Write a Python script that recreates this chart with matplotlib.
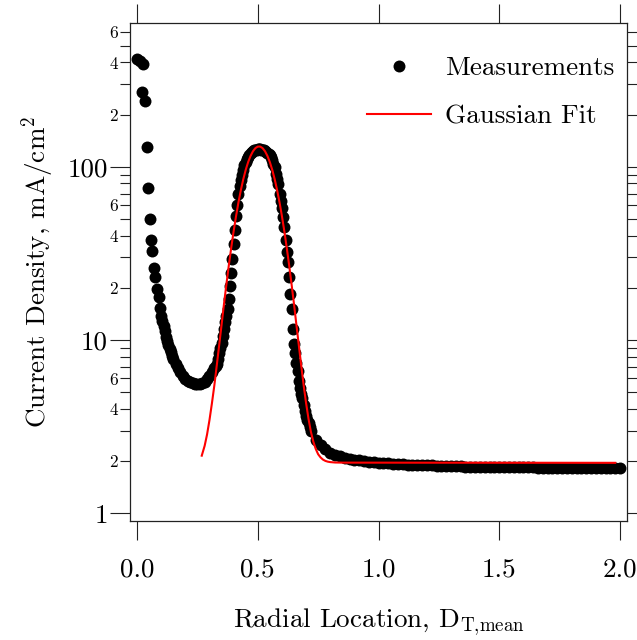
import matplotlib
matplotlib.use("Agg")
from matplotlib import pyplot as plt
from matplotlib.ticker import FixedLocator, FixedFormatter

plt.rcParams["font.family"] = "cmr10"
plt.rcParams["mathtext.fontset"] = "cm"
plt.rcParams["axes.formatter.use_mathtext"] = True

meas_x = [0.002, 0.014, 0.026, 0.021, 0.032, 0.041, 0.047, 0.053, 0.057, 0.063,
          0.069, 0.073, 0.081, 0.090, 0.094,
          0.100, 0.105, 0.110, 0.115, 0.120, 0.125, 0.130, 0.135, 0.140, 0.145,
          0.150, 0.160, 0.170, 0.180, 0.190, 0.200, 0.210, 0.220, 0.230, 0.240,
          0.250, 0.260, 0.270, 0.280, 0.290, 0.300, 0.310, 0.320, 0.325,
          0.330, 0.335, 0.340, 0.345, 0.350, 0.355, 0.360, 0.365, 0.370, 0.375,
          0.380, 0.385, 0.390, 0.395, 0.400, 0.405, 0.410, 0.415, 0.420, 0.425,
          0.430, 0.435, 0.440, 0.445, 0.450, 0.455, 0.460, 0.465, 0.470, 0.475,
          0.480, 0.485, 0.490, 0.495, 0.500, 0.505, 0.510, 0.515, 0.520, 0.525,
          0.530, 0.535, 0.540, 0.545, 0.550, 0.555, 0.560, 0.565, 0.570, 0.575,
          0.580, 0.585, 0.590, 0.595, 0.600, 0.605, 0.610, 0.615, 0.620, 0.625,
          0.630, 0.635, 0.640, 0.645, 0.650, 0.655, 0.660, 0.665, 0.670, 0.675,
          0.680, 0.685, 0.690, 0.695, 0.700, 0.705, 0.710, 0.715, 0.720,
          0.74, 0.76, 0.78, 0.80, 0.82, 0.84, 0.86, 0.88, 0.90, 0.92, 0.94,
          0.96, 0.98, 1.00, 1.02, 1.04, 1.06, 1.08, 1.10, 1.12, 1.14, 1.16,
          1.18, 1.20, 1.22, 1.24, 1.26, 1.28, 1.30, 1.32, 1.34, 1.36, 1.38,
          1.40, 1.42, 1.44, 1.46, 1.48, 1.50, 1.52, 1.54, 1.56, 1.58, 1.60,
          1.62, 1.64, 1.66, 1.68, 1.70, 1.72, 1.74, 1.76, 1.78, 1.80, 1.82,
          1.84, 1.86, 1.88, 1.90, 1.92, 1.94, 1.96, 1.98, 2.00]
meas_y = [418, 407, 392, 271, 239, 130, 75, 50, 38, 32.7,
          26, 23, 19.6, 17.8, 15.2,
          13.8, 12.8, 12.0, 11.2, 10.4, 9.9, 9.4, 8.9, 8.5, 8.1,
          7.8, 7.3, 6.9, 6.5, 6.2, 5.95, 5.8, 5.7, 5.62, 5.58,
          5.56, 5.57, 5.62, 5.75, 5.95, 6.2, 6.5, 6.9, 7.1,
          7.3, 7.8, 8.4, 9.0, 9.6, 10.5, 11.6, 12.7, 13.8, 15.0,
          17.2, 20.5, 24.5, 29.5, 36, 43, 52, 60, 70, 77,
          84, 90, 96, 102, 107, 111, 114, 117, 120, 121.5,
          123, 124, 125, 125.5, 126, 126, 126, 125.5, 125, 124,
          123, 122, 120.5, 119, 117, 113, 109, 104, 99, 91,
          85, 79, 70, 63, 58, 51, 45, 38, 32, 28,
          23, 18.5, 15, 11.6, 9.5, 8.4, 7.4, 6.6, 5.8, 5.3,
          4.9, 4.6, 4.2, 3.9, 3.65, 3.45, 3.3, 3.15, 3.0,
          2.65, 2.47, 2.34, 2.24, 2.18, 2.13, 2.09, 2.06, 2.04, 2.02, 2.00,
          1.98, 1.965, 1.95, 1.945, 1.94, 1.93, 1.925, 1.915, 1.91, 1.905, 1.90,
          1.895, 1.89, 1.89, 1.885, 1.88, 1.875, 1.87, 1.87, 1.865, 1.86, 1.86,
          1.86, 1.855, 1.855, 1.85, 1.85, 1.85, 1.845, 1.845, 1.845, 1.84, 1.84,
          1.84, 1.84, 1.835, 1.835, 1.835, 1.835, 1.83, 1.83, 1.83, 1.83, 1.83,
          1.825, 1.825, 1.825, 1.825, 1.82, 1.82, 1.82, 1.82, 1.82]

# gaussian fit curve
fit_x = [0.268, 0.28, 0.29, 0.30, 0.31, 0.32, 0.33, 0.34, 0.35, 0.36, 0.37,
         0.38, 0.39, 0.40, 0.41, 0.42, 0.43, 0.44, 0.45, 0.46, 0.47, 0.48,
         0.49, 0.50, 0.51, 0.52, 0.53, 0.54, 0.55, 0.56, 0.57, 0.58, 0.59,
         0.60, 0.61, 0.62, 0.63, 0.64, 0.65, 0.66, 0.67, 0.68, 0.69, 0.70,
         0.71, 0.72, 0.73, 0.74, 0.75, 0.76, 0.77, 0.78, 0.79, 0.80, 0.82,
         0.85, 1.98]
fit_y = [2.15, 2.45, 2.85, 3.45, 4.3, 5.45, 7.1, 9.3, 12.2, 16.1, 20.9,
         26.9, 34.0, 42.4, 51.8, 62.3, 73.3, 84.7, 95.8, 106.2, 115.3, 122.7,
         127.9, 130.6, 130.6, 127.9, 122.7, 115.3, 106.2, 95.8, 84.7, 73.3, 62.3,
         51.8, 42.4, 34.0, 26.9, 20.9, 16.1, 12.2, 9.3, 7.1, 5.47, 4.32,
         3.51, 2.95, 2.59, 2.35, 2.19, 2.10, 2.04, 2.005, 1.985, 1.974, 1.963,
         1.96, 1.955]

xticks = [0.0, 0.5, 1.0, 1.5, 2.0]
xtick_labels = ["0.0", "0.5", "1.0", "1.5", "2.0"]
yticks_major = [1, 10, 100]
ytick_major_labels = ["1", "10", "100"]
yticks_minor = [2, 3, 4, 5, 6, 7, 8, 9, 20, 30, 40, 50, 60, 70, 80, 90,
                200, 300, 400, 500, 600]
ytick_minor_labels = ["2", "", "4", "", "6", "", "", "", "2", "", "4", "", "6", "", "", "",
                      "2", "", "4", "", "6"]

fig = plt.figure(figsize=(6.37, 6.40), dpi=100)
ax = fig.add_axes([0.2041, 0.1864, 0.7807, 0.7777])

ax.plot(meas_x, meas_y, "o", color="black", ms=8.6, mew=0, label="Measurements")
ax.plot(fit_x, fit_y, "-", color="#ff0000", lw=1.5, label="Gaussian Fit")

ax.set_yscale("log")
ax.set_xlim(-0.029, 2.030)
ax.set_ylim(0.906, 675)

ax.xaxis.set_major_locator(FixedLocator(xticks))
ax.xaxis.set_major_formatter(FixedFormatter(xtick_labels))
ax.xaxis.set_minor_locator(FixedLocator([]))
ax.yaxis.set_major_locator(FixedLocator(yticks_major))
ax.yaxis.set_major_formatter(FixedFormatter(ytick_major_labels))
ax.yaxis.set_minor_locator(FixedLocator(yticks_minor))
ax.yaxis.set_minor_formatter(FixedFormatter(ytick_minor_labels))

for s in ax.spines.values():
    s.set_linewidth(0.9)
    s.set_color("#222222")

ax.tick_params(axis="x", which="major", direction="out", top=True, bottom=True,
               length=13.5, width=0.8, labelsize=19.5, pad=13, color="#222222")
ax.tick_params(axis="y", which="major", direction="out", left=True, right=True,
               length=14.4, width=0.8, labelsize=19.5, pad=1.5, color="#222222")
ax.tick_params(axis="y", which="minor", direction="out", left=True, right=True,
               length=7.2, width=0.8, labelsize=12.5, pad=1.5, color="#222222")

ax.set_xlabel(r"Radial Location, D$_{\mathrm{T{,}mean}}$", fontsize=19.5, labelpad=18.5)
ax.set_ylabel(r"Current Density, mA/cm$^{2}$", fontsize=19.5, labelpad=8.5)

ax.legend(loc="upper left", bbox_to_anchor=(0.5766, 0.9117), bbox_transform=fig.transFigure,
          frameon=False, fontsize=19.5, handlelength=2.36, handletextpad=0.52,
          labelspacing=0.88, borderpad=0, borderaxespad=0, numpoints=1)

fig.savefig("out.png", dpi=100)
